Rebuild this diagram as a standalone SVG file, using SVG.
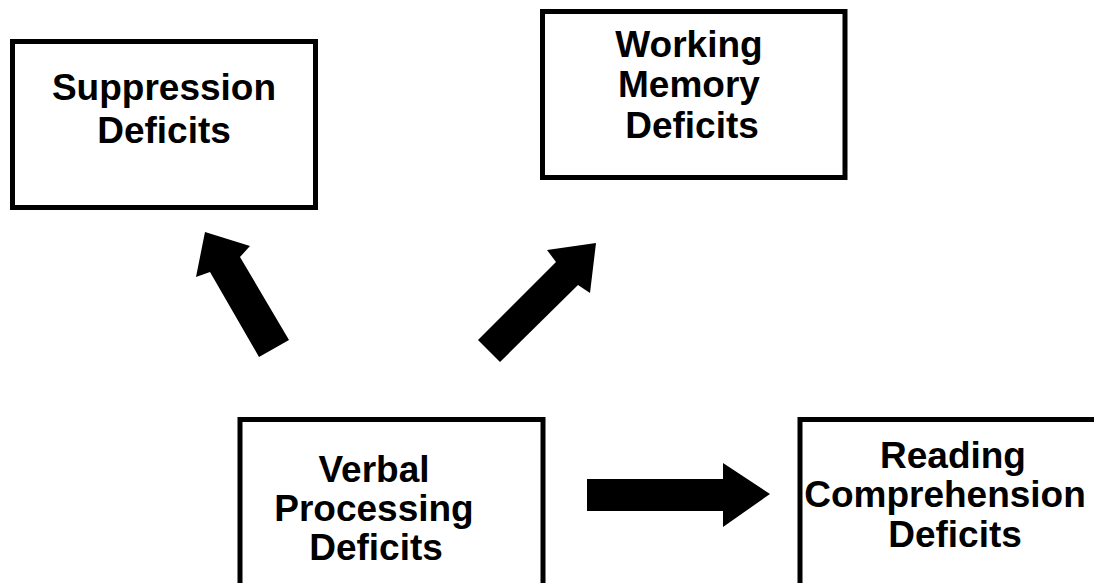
<svg xmlns="http://www.w3.org/2000/svg" width="1094" height="583" viewBox="0 0 1094 583">
<style>
.box{fill:#fff;stroke:#000;stroke-width:5}
.lbl{font-family:"Liberation Sans",Arial,sans-serif;font-weight:bold;font-size:37px;fill:#000;text-anchor:middle}
.arr{fill:#000}
</style>
<rect width="1094" height="583" fill="#fff"/>
<g id="suppression">
<rect class="box" x="12.5" y="41.5" width="303" height="166"/>
<text class="lbl" x="164" y="100">Suppression</text>
<text class="lbl" x="164" y="143">Deficits</text>
</g>
<g id="working-memory">
<rect class="box" x="542.5" y="11.5" width="302.5" height="166"/>
<text class="lbl" x="689" y="57">Working</text>
<text class="lbl" x="689" y="97">Memory</text>
<text class="lbl" x="692" y="138">Deficits</text>
</g>
<g id="verbal">
<rect class="box" x="240" y="419.5" width="303" height="200"/>
<text class="lbl" x="374" y="482">Verbal</text>
<text class="lbl" x="374" y="521">Processing</text>
<text class="lbl" x="376" y="560">Deficits</text>
</g>
<g id="reading">
<rect class="box" x="800" y="419.5" width="400" height="200"/>
<text class="lbl" x="953" y="468">Reading</text>
<text class="lbl" x="945" y="507">Comprehension</text>
<text class="lbl" x="955" y="547">Deficits</text>
</g>
<g id="connectors">
<polygon class="arr" points="205,232 250,246 240,257 289,340 259,357 210,272 196,277"/>
<polygon class="arr" points="596,243 547,250 556,262 478,340 500,362 578,285 590,293"/>
<polygon class="arr" points="587,479 723,479 723,463 770,494 723,527 723,511 587,511"/>
</g>
</svg>
